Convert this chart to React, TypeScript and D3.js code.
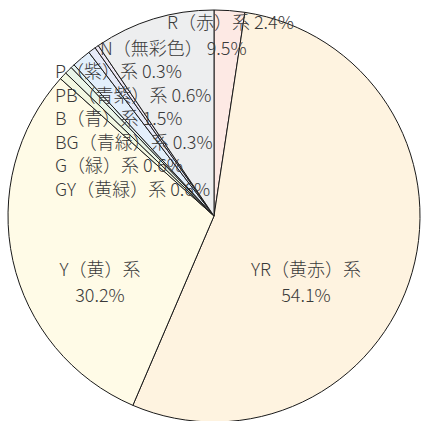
import React, { useEffect, useRef } from 'react';
import * as d3 from 'd3';

const names = ['R（赤）系', 'YR（黄赤）系', 'Y（黄）系', 'GY（黄緑）系', 'G（緑）系', 'BG（青緑）系', 'B（青）系', 'PB（青紫）系', 'P（紫）系', 'N（無彩色）'];
const values = [2.4, 54.1, 30.2, 0.6, 0.6, 0.3, 1.5, 0.6, 0.3, 9.5];
const colors = ['#FDE9E4', '#FEF3E0', '#FFFBE7', '#F3F8E2', '#EAF5E8', '#E6F4F1', '#E3EFFB', '#E6EAF8', '#EEE8F5', '#EDEEEF'];

const W = 422;
const H = 421;

const App = () => {
  const ref = useRef<SVGSVGElement>(null);

  useEffect(() => {
    document.body.style.margin = '0';
    const svg = d3.select(ref.current);
    svg.selectAll('*').remove();

    const cx = 214;
    const cy = 216;
    const radius = 206;

    const pie = d3.pie<number>().sort(null).value(d => d);
    const arc = d3.arc<d3.PieArcDatum<number>>().innerRadius(0).outerRadius(radius);

    const g = svg.append('g').attr('transform', `translate(${cx},${cy})`);
    g.selectAll('path')
      .data(pie(values))
      .enter()
      .append('path')
      .attr('d', arc)
      .attr('fill', (d, i) => colors[i])
      .attr('stroke', '#1a1a1a')
      .attr('stroke-width', 1)
      .attr('stroke-linejoin', 'round');

    const label = (text: string, x: number, y: number, anchor = 'start') => {
      svg.append('text')
        .attr('x', x)
        .attr('y', y)
        .attr('text-anchor', anchor)
        .attr('fill', '#3a3a3a')
        .attr('font-size', 18)
        .attr('font-weight', 300)
        .attr('font-family', '"Noto Sans CJK JP", "Noto Sans", sans-serif')
        .text(text);
    };

    const pct = (i: number) => `${values[i].toFixed(1)}%`;

    // top labels
    label(`${names[0]} ${pct(0)}`, 167, 29);
    label(`${names[9]} ${pct(9)}`, 100, 55);

    // stacked list on the left
    const list = [8, 7, 6, 5, 4, 3];
    list.forEach((idx, k) => {
      label(`${names[idx]} ${pct(idx)}`, 55, 78 + k * 23.6);
    });

    // large slices
    label(names[2], 100, 276, 'middle');
    label(pct(2), 100, 302, 'middle');
    label(names[1], 306, 276, 'middle');
    label(pct(1), 306, 302, 'middle');
  }, []);

  return <svg ref={ref} width={W} height={H} style={{ display: 'block' }} />;
};

export default App;
